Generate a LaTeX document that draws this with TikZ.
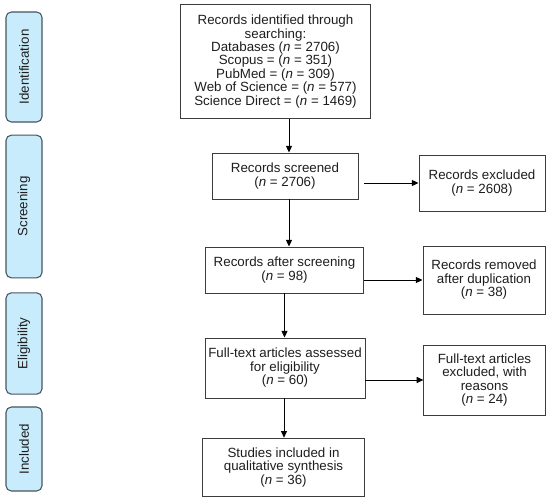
\documentclass[tikz,border=0pt]{standalone}
\usepackage{fontspec}
\setmainfont{Liberation Sans}
\usetikzlibrary{arrows.meta}
\definecolor{stagefill}{RGB}{200,236,252}
\definecolor{stageline}{RGB}{70,85,95}
\definecolor{boxline}{RGB}{60,60,60}
\definecolor{txt}{RGB}{30,30,30}
\begin{document}
\begin{tikzpicture}[x=0.75pt,y=-0.75pt,
  box/.style={draw=boxline,line width=0.7pt,fill=white,align=center,inner sep=0pt,
    text=txt,font=\fontsize{10}{10.1}\selectfont},
  stage/.style={draw=stageline,fill=stagefill,rounded corners=4pt,line width=0.8pt,
    inner sep=0pt,text=txt,font=\fontsize{10}{10.1}\selectfont},
  arr/.style={draw=black,line width=0.7pt,-{Triangle[length=5pt,width=4.5pt]}}]
\useasboundingbox (0,0) rectangle (550,502);
% stages
\node[stage,minimum width=27pt,minimum height=82.5pt] (s1) at (24,67) {\rotatebox{90}{Identification}};
\node[stage,minimum width=27pt,minimum height=107pt] (s2) at (24,206.5) {\rotatebox{90}{Screening}};
\node[stage,minimum width=27pt,minimum height=76pt] (s3) at (24,343.5) {\rotatebox{90}{Eligibility}};
\node[stage,minimum width=27pt,minimum height=63pt] (s4) at (24,449) {\rotatebox{90}{Included}};
% main boxes
\node[box,minimum width=143pt,minimum height=86pt] (b1) at (275.5,61.5)
  {Records identified through\\searching:\\Databases (\textit{n} = 2706)\\Scopus = (\textit{n} = 351)\\PubMed = (\textit{n} = 309)\\Web of Science = (\textit{n} = 577)\\Science Direct = (\textit{n} = 1469)};
\node[box,minimum width=109.5pt,minimum height=34.5pt] (b2) at (285,176)
  {Records screened\\(\textit{n} = 2706)};
\node[box,minimum width=118pt,minimum height=34.5pt] (b3) at (284.5,270)
  {Records after screening\\(\textit{n} = 98)};
\node[box,minimum width=120pt,minimum height=45pt] (b4) at (285,368)
  {Full-text articles assessed\\for eligibility\\(\textit{n} = 60)};
\node[box,minimum width=122pt,minimum height=44pt] (b5) at (283.5,467.5)
  {Studies included in\\qualitative synthesis\\(\textit{n} = 36)};
% side boxes
\node[box,minimum width=94.5pt,minimum height=42pt] (e1) at (482,183)
  {Records excluded\\(\textit{n} = 2608)};
\node[box,minimum width=91.5pt,minimum height=51pt] (e2) at (484,280)
  {Records removed\\after duplication\\(\textit{n} = 38)};
\node[box,minimum width=91pt,minimum height=52.5pt] (e3) at (484.5,380)
  {Full-text articles\\excluded, with\\reasons\\(\textit{n} = 24)};
% vertical arrows
\draw[arr] ([xshift=3pt]b1.south -| b2.north) -- ([xshift=3pt]b2.north);
\draw[arr] ([xshift=3pt]b2.south) -- ([xshift=3pt]b2.south |- b3.north);
\draw[arr] (b3.south) -- (b3.south |- b4.north);
\draw[arr] ([xshift=-0.75pt]b4.south) -- ([xshift=-0.75pt]b4.south |- b5.north);
% horizontal arrows
\draw[arr] (b2.east |- e1.west) ++(4pt,0) -- (e1.west);
\draw[arr] (b3.east |- e2.west) -- (e2.west);
\draw[arr] (b4.east |- e3.west) -- (e3.west);
\end{tikzpicture}
\end{document}
